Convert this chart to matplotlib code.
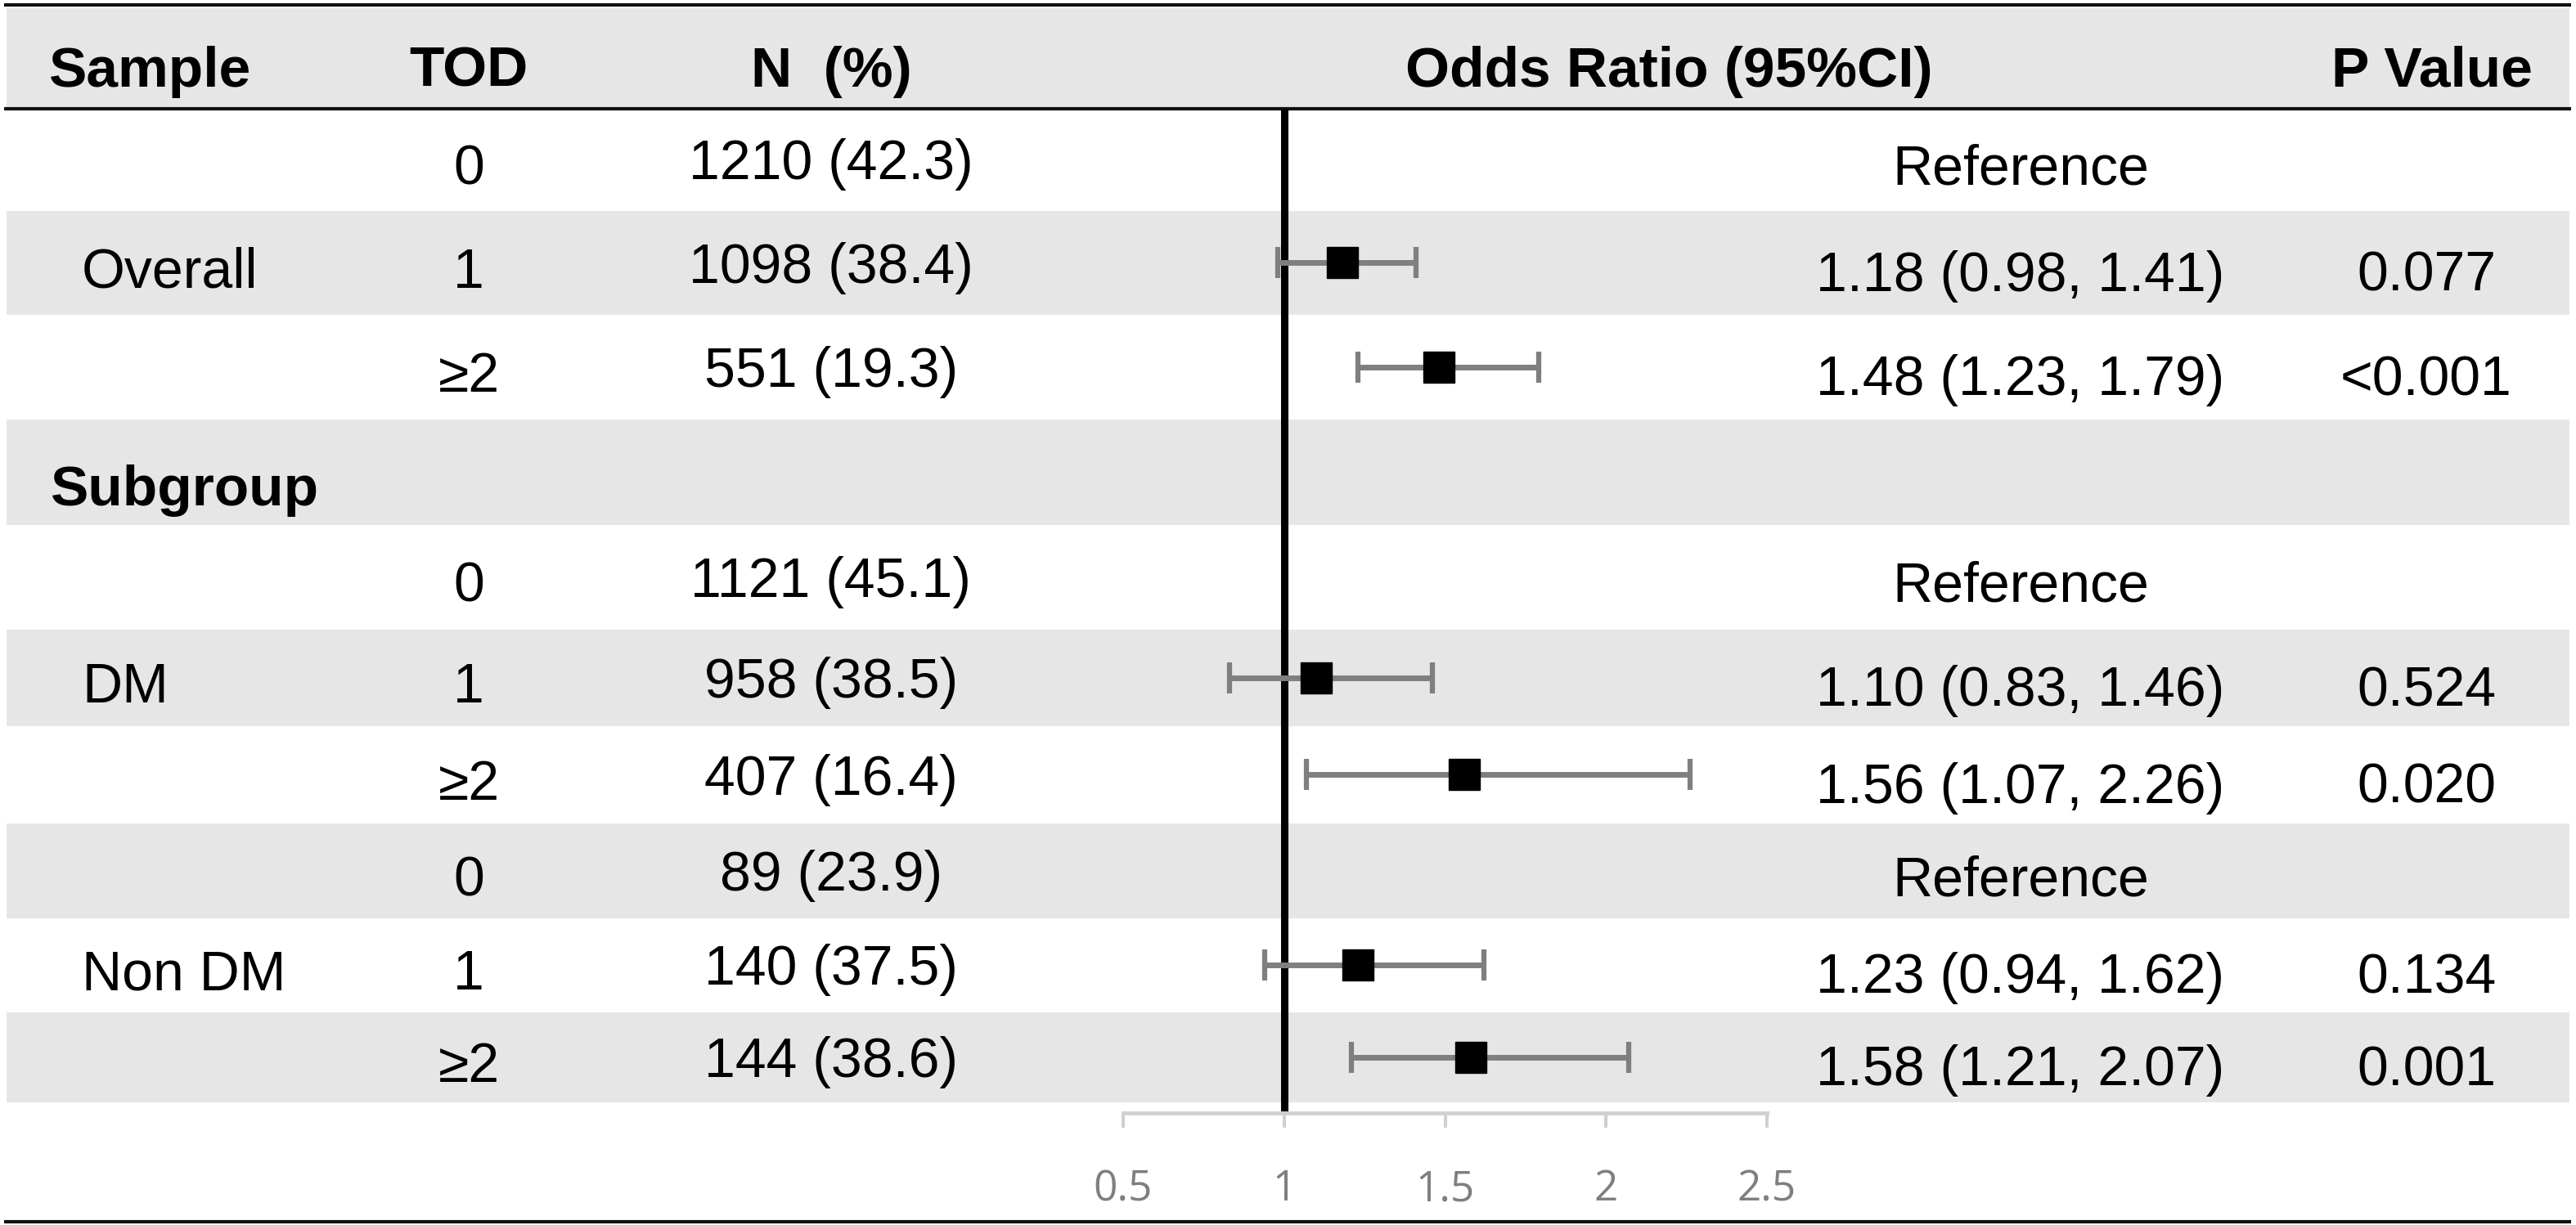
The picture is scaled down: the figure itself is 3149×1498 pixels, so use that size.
import matplotlib
matplotlib.use("Agg")
import matplotlib.pyplot as plt

plt.rcParams['font.family'] = ['Liberation Sans', 'DejaVu Sans']

# ---------------- data ----------------
headers = ["Sample", "TOD", "N  (%)", "Odds Ratio (95%CI)", "P Value"]
groups = ["Overall", "DM", "Non DM"]
section_label = "Subgroup"
tod_levels = ["0", "1", "≥2", "0", "1", "≥2", "0", "1", "≥2"]
n_counts = [1210, 1098, 551, 1121, 958, 407, 89, 140, 144]
n_pct = [42.3, 38.4, 19.3, 45.1, 38.5, 16.4, 23.9, 37.5, 38.6]
odds = [None, 1.18, 1.48, None, 1.10, 1.56, None, 1.23, 1.58]
ci_low = [None, 0.98, 1.23, None, 0.83, 1.07, None, 0.94, 1.21]
ci_high = [None, 1.41, 1.79, None, 1.46, 2.26, None, 1.62, 2.07]
p_values = ["", "0.077", "<0.001", "", "0.524", "0.020", "", "0.134", "0.001"]
x_ticks = [0.5, 1, 1.5, 2, 2.5]
x_tick_labels = ["0.5", "1", "1.5", "2", "2.5"]

# ---------------- layout (pixels) ----------------
W, H = 3149, 1498
fig = plt.figure(figsize=(W / 100, H / 100), dpi=100)
bg = fig.add_axes([0, 0, 1, 1])
bg.set_xlim(0, W)
bg.set_ylim(H, 0)
bg.axis('off')

# band edges: header, then 10 table rows
edges = [10, 132, 258, 385, 513, 642, 770, 888, 1007, 1123, 1238, 1348]
gray = '#e6e6e6'
xl, xr = 8, 3141
# header band + alternating bands
gray_rows = [0, 2, 4, 6, 8, 10]  # index into band list (0 = header)
for i in gray_rows:
    bg.fill_between([xl, xr], edges[i], edges[i + 1], color=gray, lw=0, zorder=0)

# horizontal rules
for yy in (6, 133, 1494):
    bg.plot([5, 3143], [yy, yy], color='#111111', lw=3.0, solid_capstyle='butt', zorder=3)

# table rows: map data rows to band index
data_band = [1, 2, 3, 5, 6, 7, 8, 9, 10]
centers = [(edges[i] + edges[i + 1]) / 2 for i in range(len(edges) - 1)]
txt_off = 12

FS = 49
HFS = 50
col_x = {"sample": 60, "group": 100, "tod": 573, "n": 1016, "or": 2470, "p": 2966}

# header
hy = 88
bg.text(col_x["sample"], hy, headers[0], fontsize=HFS, fontweight='bold', ha='left', va='center')
bg.text(col_x["tod"], hy, headers[1], fontsize=HFS, fontweight='bold', ha='center', va='center')
bg.text(col_x["n"], hy, headers[2], fontsize=HFS, fontweight='bold', ha='center', va='center')
bg.text(2040, hy, headers[3], fontsize=HFS, fontweight='bold', ha='center', va='center')
bg.text(2973, hy, headers[4], fontsize=HFS, fontweight='bold', ha='center', va='center')

# section label
bg.text(62, centers[4] + 22, section_label, fontsize=HFS, fontweight='bold', ha='left', va='center')

for k in range(len(tod_levels)):
    b = data_band[k]
    ty = centers[b] + txt_off
    bg.text(col_x["tod"], ty, tod_levels[k], fontsize=FS, ha='center', va='center')
    bg.text(col_x["n"], ty - 6, f"{n_counts[k]} ({n_pct[k]:.1f})", fontsize=FS, ha='center', va='center')
    if odds[k] is None:
        bg.text(col_x["or"], ty, "Reference", fontsize=FS, ha='center', va='center')
    else:
        bg.text(col_x["or"], ty + 4,
                f"{odds[k]:.2f} ({ci_low[k]:.2f}, {ci_high[k]:.2f})",
                fontsize=FS, ha='center', va='center')
        bg.text(col_x["p"], ty + 4, p_values[k], fontsize=FS, ha='center', va='center')
    if k % 3 == 1:
        bg.text(col_x["group"], ty, groups[k // 3], fontsize=FS, ha='left', va='center')

# ---------------- forest axes ----------------
ax_l, ax_r = 1373, 2160
ax_top, ax_bot = 133, 1361
ax = fig.add_axes([ax_l / W, 1 - ax_bot / H, (ax_r - ax_l) / W, (ax_bot - ax_top) / H])
ax.patch.set_alpha(0)
ax.set_xlim(0.5, 2.5)
ax.set_ylim(ax_bot, ax_top)
for s in ('top', 'right', 'left'):
    ax.spines[s].set_visible(False)
ax.spines['bottom'].set_color('#d0d0d0')
ax.spines['bottom'].set_linewidth(3.5)
ax.set_yticks([])
ax.set_xticks(x_ticks)
ax.set_xticklabels(x_tick_labels, family=['Open Sans', 'DejaVu Sans'], fontsize=37, color='#7f7f7f')
ax.tick_params(axis='x', direction='out', length=13, width=3, color='#d0d0d0', pad=36)

ax.axvline(1, color='black', lw=6.5, zorder=2, solid_capstyle='butt')

for k in range(len(odds)):
    if odds[k] is None:
        continue
    y = centers[data_band[k]]
    ax.errorbar([odds[k]], [y],
                xerr=[[odds[k] - ci_low[k]], [ci_high[k] - odds[k]]],
                fmt='none', ecolor='#7f7f7f', elinewidth=5, capsize=14, capthick=4.5,
                zorder=3, clip_on=False)
    ax.plot([odds[k]], [y], marker='s', color='black', markersize=27, linestyle='none',
            zorder=4, clip_on=False)

fig.savefig("out.png", dpi=100)
